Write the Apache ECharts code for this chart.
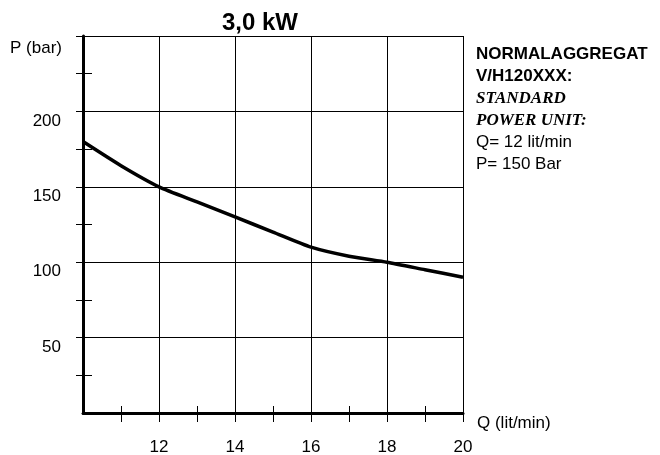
<!DOCTYPE html>
<html>
<head>
<meta charset="utf-8">
<script src="https://cdn.jsdelivr.net/npm/echarts@6/dist/echarts.min.js"></script>
<style>html,body{margin:0;padding:0;background:#fff;}#c{width:660px;height:455px;}</style>
</head>
<body>
<div id="c"></div>
<script>
const titleText = '3,0 kW';
const xName = 'Q (lit/min)';
const yName = 'P (bar)';
const flowQ = [10, 11, 12, 13, 14, 15, 16, 17, 18, 19, 20];
const pressureP = [180, 164, 150, 140, 130, 120, 110, 104, 100, 95, 90];
const noteLines = [
  { text: 'NORMALAGGREGAT', style: 'sansBold' },
  { text: 'V/H120XXX:', style: 'sansBold' },
  { text: 'STANDARD', style: 'serifBoldItalic' },
  { text: 'POWER UNIT:', style: 'serifBoldItalic' },
  { text: 'Q= 12 lit/min', style: 'sans' },
  { text: 'P= 150 Bar', style: 'sans' }
];

const SANS = '"Liberation Sans", Arial, sans-serif';
const SERIF = '"Liberation Serif", "Times New Roman", serif';
const styleMap = {
  sansBold: { fontFamily: SANS, fontWeight: 'bold', fontStyle: 'normal' },
  serifBoldItalic: { fontFamily: SERIF, fontWeight: 'bold', fontStyle: 'italic' },
  sans: { fontFamily: SANS, fontWeight: 'normal', fontStyle: 'normal' }
};

const chart = echarts.init(document.getElementById('c'), null, { renderer: 'canvas' });

const gridBox = { left: 83, right: 197, top: 36, bottom: 42, containLabel: false, outerBoundsMode: 'none' };
const tickLine = { color: '#000', width: 1 };

const noteGraphics = noteLines.map((ln, i) => ({
  type: 'text',
  left: 476,
  top: 54.5 + i * 22.1 - 9,
  style: Object.assign({
    text: ln.text,
    fontSize: 17,
    fill: '#000',
    verticalAlign: 'top'
  }, styleMap[ln.style])
}));

const option = {
  animation: false,
  backgroundColor: '#ffffff',
  title: {
    text: titleText,
    left: 260,
    top: 11,
    textAlign: 'center',
    padding: 0,
    textStyle: { fontFamily: SANS, fontWeight: 'bold', fontSize: 24, color: '#000' }
  },
  grid: [Object.assign({}, gridBox), Object.assign({}, gridBox)],
  xAxis: [
    {
      type: 'value', gridIndex: 0, min: 10, max: 20, interval: 2,
      name: xName, nameLocation: 'end', nameGap: 14,
      nameTextStyle: { fontFamily: SANS, fontSize: 17, color: '#000', align: 'left', verticalAlign: 'top', lineHeight: 17, padding: [2, 0, 0, 0] },
      axisLine: { show: true, lineStyle: { color: '#000', width: 3 } },
      axisTick: { show: true, length: 9, lineStyle: tickLine },
      minorTick: { show: false },
      splitLine: { show: true, lineStyle: { color: '#000', width: 1 } },
      axisLabel: { showMinLabel: false, showMaxLabel: true, margin: 26, fontFamily: SANS, fontSize: 17, color: '#000' },
      z: 3
    },
    {
      type: 'value', gridIndex: 1, min: 10, max: 20, interval: 2, position: 'bottom', offset: -7,
      axisLine: { show: false },
      axisTick: { show: true, length: 16, lineStyle: tickLine },
      minorTick: { show: true, splitNumber: 2, length: 16, lineStyle: tickLine },
      splitLine: { show: false },
      axisLabel: { show: false },
      z: 2
    }
  ],
  yAxis: [
    {
      type: 'value', gridIndex: 0, min: 0, max: 250, interval: 50,
      name: yName, nameLocation: 'end', nameGap: -12,
      nameTextStyle: { fontFamily: SANS, fontSize: 17, color: '#000', align: 'right', verticalAlign: 'middle', padding: [0, 21, 0, 0] },
      axisLine: { show: true, lineStyle: { color: '#000', width: 3 } },
      axisTick: { show: true, length: 7, lineStyle: tickLine },
      minorTick: { show: false },
      splitLine: { show: true, lineStyle: { color: '#000', width: 1 } },
      axisLabel: { showMinLabel: false, showMaxLabel: false, margin: 22, verticalAlign: 'top', padding: [1, 0, 0, 0], fontFamily: SANS, fontSize: 17, color: '#000' },
      z: 3
    },
    {
      type: 'value', gridIndex: 1, min: 0, max: 250, interval: 50, position: 'left', offset: -9,
      axisLine: { show: false },
      axisTick: { show: true, length: 16, lineStyle: tickLine },
      minorTick: { show: true, splitNumber: 2, length: 16, lineStyle: tickLine },
      splitLine: { show: false },
      axisLabel: { show: false },
      z: 2
    }
  ],
  series: [
    {
      type: 'line',
      xAxisIndex: 0, yAxisIndex: 0,
      data: flowQ.map((q, i) => [q, pressureP[i]]),
      smooth: 0.2,
      symbol: 'none',
      lineStyle: { color: '#000', width: 3.5 },
      z: 5
    }
  ],
  graphic: noteGraphics.concat([
    { type: 'rect', left: 72, top: 410, shape: { width: 9.5, height: 7 }, style: { fill: '#fff' }, z: 100 },
    { type: 'rect', left: 80, top: 415, shape: { width: 6, height: 10 }, style: { fill: '#fff' }, z: 100 }
  ])
};

chart.setOption(option);
</script>
</body>
</html>
